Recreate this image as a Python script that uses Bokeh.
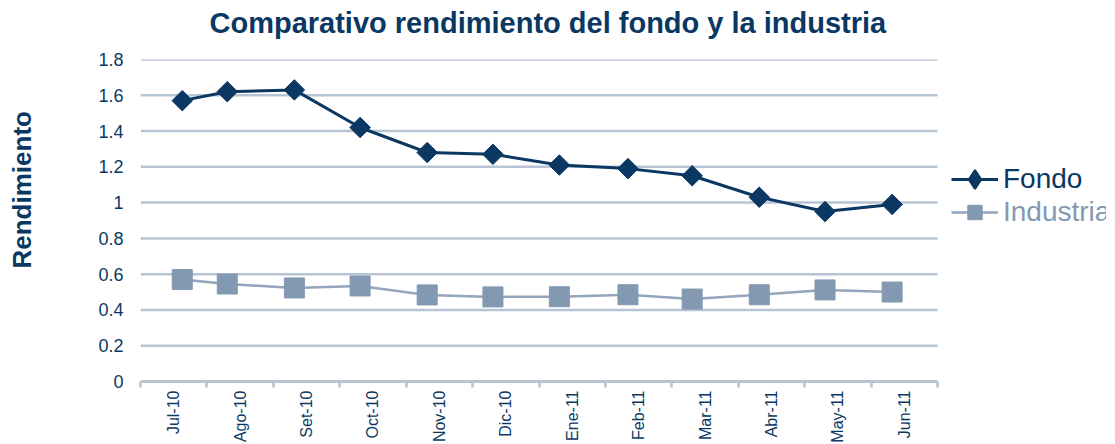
import numpy as np
import pandas as pd
from bokeh.plotting import figure
from bokeh.models import (Range1d, FixedTicker, NumeralTickFormatter, Legend,
                          LegendItem, ColumnDataSource, Title)
from bokeh.embed import file_html
from bokeh.resources import INLINE

# ---------------- data ----------------
meses = ["Jul-10", "Ago-10", "Set-10", "Oct-10", "Nov-10", "Dic-10",
         "Ene-11", "Feb-11", "Mar-11", "Abr-11", "May-11", "Jun-11"]
fechas = ["2010-07-20", "2010-08-10", "2010-09-10", "2010-10-10", "2010-11-10",
          "2010-12-10", "2011-01-10", "2011-02-10", "2011-03-10", "2011-04-10",
          "2011-05-10", "2011-06-10"]
fondo = [1.57, 1.62, 1.63, 1.42, 1.28, 1.27, 1.21, 1.19, 1.15, 1.03, 0.95, 0.99]
industria = [0.57, 0.545, 0.523, 0.534, 0.484, 0.473, 0.474, 0.485, 0.461,
             0.485, 0.512, 0.50]
y_ticks = [0, 0.2, 0.4, 0.6, 0.8, 1.0, 1.2, 1.4, 1.6, 1.8]
titulo = "Comparativo rendimiento del fondo y la industria"
eje_y = "Rendimiento"

# position of each observation on a month axis (month index + fraction of month)
d = pd.to_datetime(fechas)
inicio = d[0].year * 12 + d[0].month
pos = [(f.year * 12 + f.month - inicio) + (f.day - 0.5) / f.days_in_month for f in d]

src = ColumnDataSource(dict(x=pos, fondo=fondo, industria=industria))

DARK = "#0b3862"
LIGHT = "#8399b1"
LIGHT_LINE = "#93a6bb"
GRID = "#b7c4d4"
FONT = "Liberation Sans"

PLOT_W = 797          # width of the data area
FRAME_W = 966         # frame also hosts the legend on the right
n = len(meses)

p = figure(frame_width=FRAME_W, frame_height=322,
           x_range=Range1d(0, n * FRAME_W / PLOT_W), y_range=Range1d(0, 1.8),
           output_backend="svg", toolbar_location=None)
p.title = None
p.min_border = 0
p.outline_line_color = None
p.background_fill_color = "white"
p.border_fill_color = "white"


def spacer(px):
    return Title(text=" ", text_font_size="1px", standoff=px)


# title (a spacer panel sits between the title and the frame)
p.add_layout(spacer(14), "above")
p.add_layout(Title(text=titulo, align="left", offset=69, standoff=8,
                   text_font=FONT, text_font_size="29px",
                   text_font_style="bold", text_color=DARK), "above")

# grid (limited to the data area)
p.xgrid.grid_line_color = None
p.ygrid.grid_line_color = None
p.segment(x0=0, x1=n, y0=y_ticks, y1=y_ticks, line_color=GRID, line_width=2.5)

# y axis
ya = p.yaxis[0]
ya.ticker = FixedTicker(ticks=y_ticks)
ya.formatter = NumeralTickFormatter(format="0.[0]")
ya.axis_line_color = None
ya.major_tick_line_color = None
ya.minor_tick_line_color = None
ya.major_tick_out = 0
ya.major_label_standoff = 17
ya.major_label_text_font = FONT
ya.major_label_text_font_size = "18px"
ya.major_label_text_color = DARK

p.add_layout(spacer(52), "left")
p.add_layout(Title(text=eje_y, align="left", offset=113, standoff=8,
                   text_font=FONT, text_font_size="26px",
                   text_font_style="bold", text_color=DARK), "left")

# x axis: labels at month centres, ticks at month boundaries
xa = p.xaxis[0]
centros = [i + 0.5 for i in range(n)]
xa.ticker = FixedTicker(ticks=centros, minor_ticks=list(range(n + 1)))
xa.bounds = (0, n)
xa.major_label_overrides = {c: m for c, m in zip(centros, meses)}
xa.major_label_orientation = np.pi / 2
xa.major_tick_line_color = None
xa.major_tick_out = 0
xa.major_tick_in = 0
xa.minor_tick_line_color = GRID
xa.minor_tick_line_width = 2.5
xa.minor_tick_out = 6
xa.minor_tick_in = 0
xa.axis_line_color = GRID
xa.axis_line_width = 3
xa.major_label_standoff = 3
xa.major_label_text_font = FONT
xa.major_label_text_font_size = "16px"
xa.major_label_text_color = DARK

# series
l1 = p.line("x", "fondo", source=src, line_color=DARK, line_width=3)
m1 = p.scatter("x", "fondo", source=src, marker="square", angle=np.pi / 4,
               size=14.5, fill_color=DARK, line_color=DARK)
l2 = p.line("x", "industria", source=src, line_color=LIGHT_LINE, line_width=2.5)
m2 = p.scatter("x", "industria", source=src, marker="square", size=20,
               fill_color=LIGHT, line_color=LIGHT)

# legend sample for the diamond (legend samples are drawn without rotation)
m1_leyenda = p.scatter(x=[np.nan], y=[np.nan], marker="diamond",
                       fill_color=DARK, line_color=DARK, line_width=2)


def make_legend(label, renderers, color, loc, gh):
    return Legend(items=[LegendItem(label=label, renderers=renderers)],
                  location=loc, orientation="vertical",
                  border_line_color=None, background_fill_alpha=0,
                  padding=0, margin=0, spacing=0,
                  glyph_width=47, glyph_height=gh, label_height=gh,
                  label_standoff=5,
                  label_text_font=FONT, label_text_font_size="28px",
                  label_text_color=color)


p.add_layout(make_legend("Fondo", [l1, m1_leyenda], DARK, (811, 178.5), 48))
p.add_layout(make_legend("Industria", [l2, m2], LIGHT, (811, 151.5), 36))

open("out.html", "w").write(file_html(p, INLINE))
